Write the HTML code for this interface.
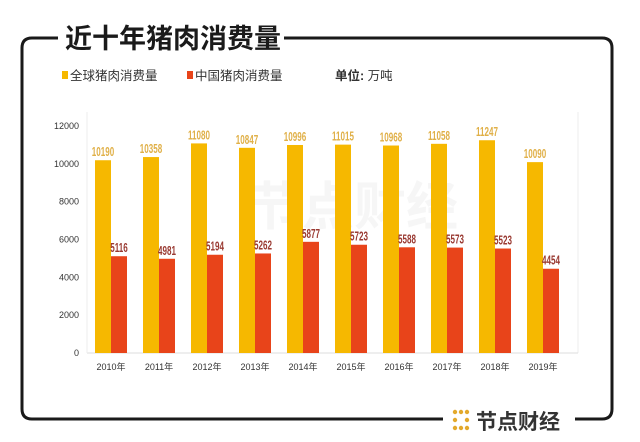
<!DOCTYPE html>
<html><head><meta charset="utf-8"><style>
body{margin:0;background:#fff;width:640px;height:437px;overflow:hidden;font-family:"Liberation Sans","Noto Sans CJK SC",sans-serif}
</style></head><body>
<svg width="640" height="437" viewBox="0 0 640 437">
<path d="M58 38 H32 Q22 38 22 48 V409 Q22 419 32 419 H443 M575 419 H602 Q612 419 612 409 V48 Q612 38 602 38 H284" fill="none" stroke="#1a1a1a" stroke-width="3"/>
<text x="65" y="48" font-size="27" font-weight="bold" fill="#1a1a1a">近十年猪肉消费量</text>
<rect x="62" y="71" width="6" height="8" fill="#f6b800"/>
<text x="70" y="80" font-size="12.5" fill="#333">全球猪肉消费量</text>
<rect x="187" y="71" width="6" height="8" fill="#e8441a"/>
<text x="195" y="80" font-size="12.5" fill="#333">中国猪肉消费量</text>
<text x="335" y="80" font-size="12.5" fill="#333"><tspan font-weight="bold">单位:</tspan> 万吨</text>
<line x1="578" y1="112" x2="578" y2="353" stroke="#eee"/>
<text x="250" y="225" font-size="52" fill="#f6f6f6" font-weight="bold">节点财经</text>
<g id="axes"></g><g id="bars"></g>
<g>
<g fill="#e3a92c"><circle cx="455" cy="412" r="2.2"/><circle cx="461" cy="412" r="2.2"/><circle cx="467" cy="412" r="2.2"/><circle cx="455" cy="420" r="2.2"/><circle cx="467" cy="420" r="2.2"/><circle cx="455" cy="428" r="2.2"/><circle cx="461" cy="428" r="2.2"/><circle cx="467" cy="428" r="2.2"/></g>
<text x="476" y="429" font-size="21" font-weight="bold" fill="#333">节点财经</text>
</g>
</svg>
<script>
const categories=["2010年","2011年","2012年","2013年","2014年","2015年","2016年","2017年","2018年","2019年"];
const globalValues=[10190,10358,11080,10847,10996,11015,10968,11058,11247,10090];
const chinaValues=[5116,4981,5194,5262,5877,5723,5588,5573,5523,4454];
const yTicks=[0,2000,4000,6000,8000,10000,12000];
const NS="http://www.w3.org/2000/svg";
const x0=87,band=48,y0=353,yMax=12000,yTop=126;
const y=v=>y0-(v/yMax)*(y0-yTop);
const ax=document.getElementById('axes'),bg=document.getElementById('bars');
function mk(t,a,p,txt){const e=document.createElementNS(NS,t);for(const k in a)e.setAttribute(k,a[k]);if(txt!==undefined)e.textContent=txt;p.appendChild(e);return e;}
const base=mk('line',{x1:x0,y1:y0,x2:578,y2:y0,stroke:'#ddd'},ax);


const yl=mk('line',{x1:x0,y1:112,x2:x0,y2:y0,stroke:'#eee'},ax);


yTicks.forEach(v=>{const t=mk('text',{x:79,y:y(v)+3,'font-size':9,fill:'#333','text-anchor':'end'},ax,v);

});
categories.forEach((c,i)=>{const cx=x0+band*i+band/2;
const t=mk('text',{x:cx,y:370,'font-size':9,fill:'#333','text-anchor':'middle'},ax,c);


const g=mk('rect',{x:cx-16,y:y(globalValues[i]),width:16,height:y0-y(globalValues[i]),fill:'#f6b800'},bg);


const r=mk('rect',{x:cx,y:y(chinaValues[i]),width:16,height:y0-y(chinaValues[i]),fill:'#e8441a'},bg);


const gl=mk('text',{x:0,y:0,'font-size':13,'font-weight':'bold',fill:'#e0b048','text-anchor':'middle',transform:`translate(${cx-8},${y(globalValues[i])-4}) scale(0.62,1)`},bg,globalValues[i]);


const rl=mk('text',{x:0,y:0,'font-size':13,'font-weight':'bold',fill:'#9a3a32','text-anchor':'middle',transform:`translate(${cx+8},${y(chinaValues[i])-4}) scale(0.62,1)`},bg,chinaValues[i]);


});
</script>
</body></html>
